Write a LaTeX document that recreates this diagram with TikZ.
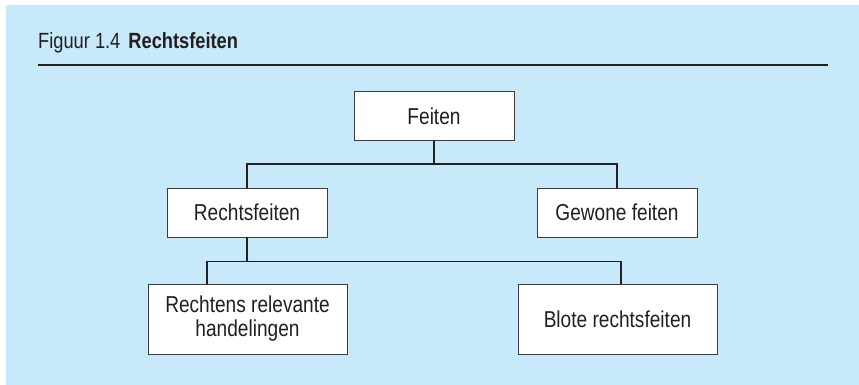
\documentclass[tikz,border=0pt]{standalone}
\usepackage{fontspec}
\setmainfont{Liberation Sans}[FakeStretch=0.83]
\usetikzlibrary{positioning,calc}
\definecolor{achtergrond}{RGB}{199,233,249}
\definecolor{inkt}{RGB}{35,31,32}
\definecolor{kader}{RGB}{60,60,62}
\begin{document}
\begin{tikzpicture}[x=1pt,y=-1pt,line cap=butt,line join=miter,
		box/.style={draw=kader,line width=0.9pt,fill=white,inner sep=0pt,align=center,
			text=inkt,font=\fontsize{23}{24}\selectfont,minimum width=160,minimum height=49},
		bigbox/.style={box,minimum width=199,minimum height=70},
		conn/.style={draw=inkt,line width=1.6pt}]
	\useasboundingbox (0,0) rectangle (859,385);
	\fill[achtergrond] (6,5) rectangle (859,385);
	% kop van de figuur
	\node[anchor=base west,inner sep=0pt,text=inkt,font=\fontsize{22}{24}\selectfont] (titel) at (38,49)
		{Figuur 1.4\hspace{8pt}\textbf{Rechtsfeiten}};
	\draw[draw=inkt,line width=2.2pt] (38,65)--(828,65);
	% de vakken
	\node[box] (feiten) at (434,116) {Feiten};
	\node[box] (rechtsfeiten) at (247,212.5) {Rechtsfeiten};
	\node[box] (gewoon) at (617,212.5) {Gewone feiten};
	\node[bigbox] (relevant) at (247.5,319) {Rechtens relevante\\handelingen};
	\node[bigbox] (blote) at (617.5,319) {Blote rechtsfeiten};
	% verbindingen
	\draw[conn] (feiten.south)--++(0,23) coordinate (tak1);
	\draw[conn] (rechtsfeiten.north)|-(tak1)-|(gewoon.north);
	\draw[conn] (rechtsfeiten.south)--++(0,24) coordinate (tak2);
	\coordinate (inRelevant) at ($(relevant.north)+(-40.5,0)$);
	\coordinate (inBlote) at ($(blote.north)+(3.5,0)$);
	\draw[conn] (inRelevant)|-(tak2)-|(inBlote);
\end{tikzpicture}
\end{document}
